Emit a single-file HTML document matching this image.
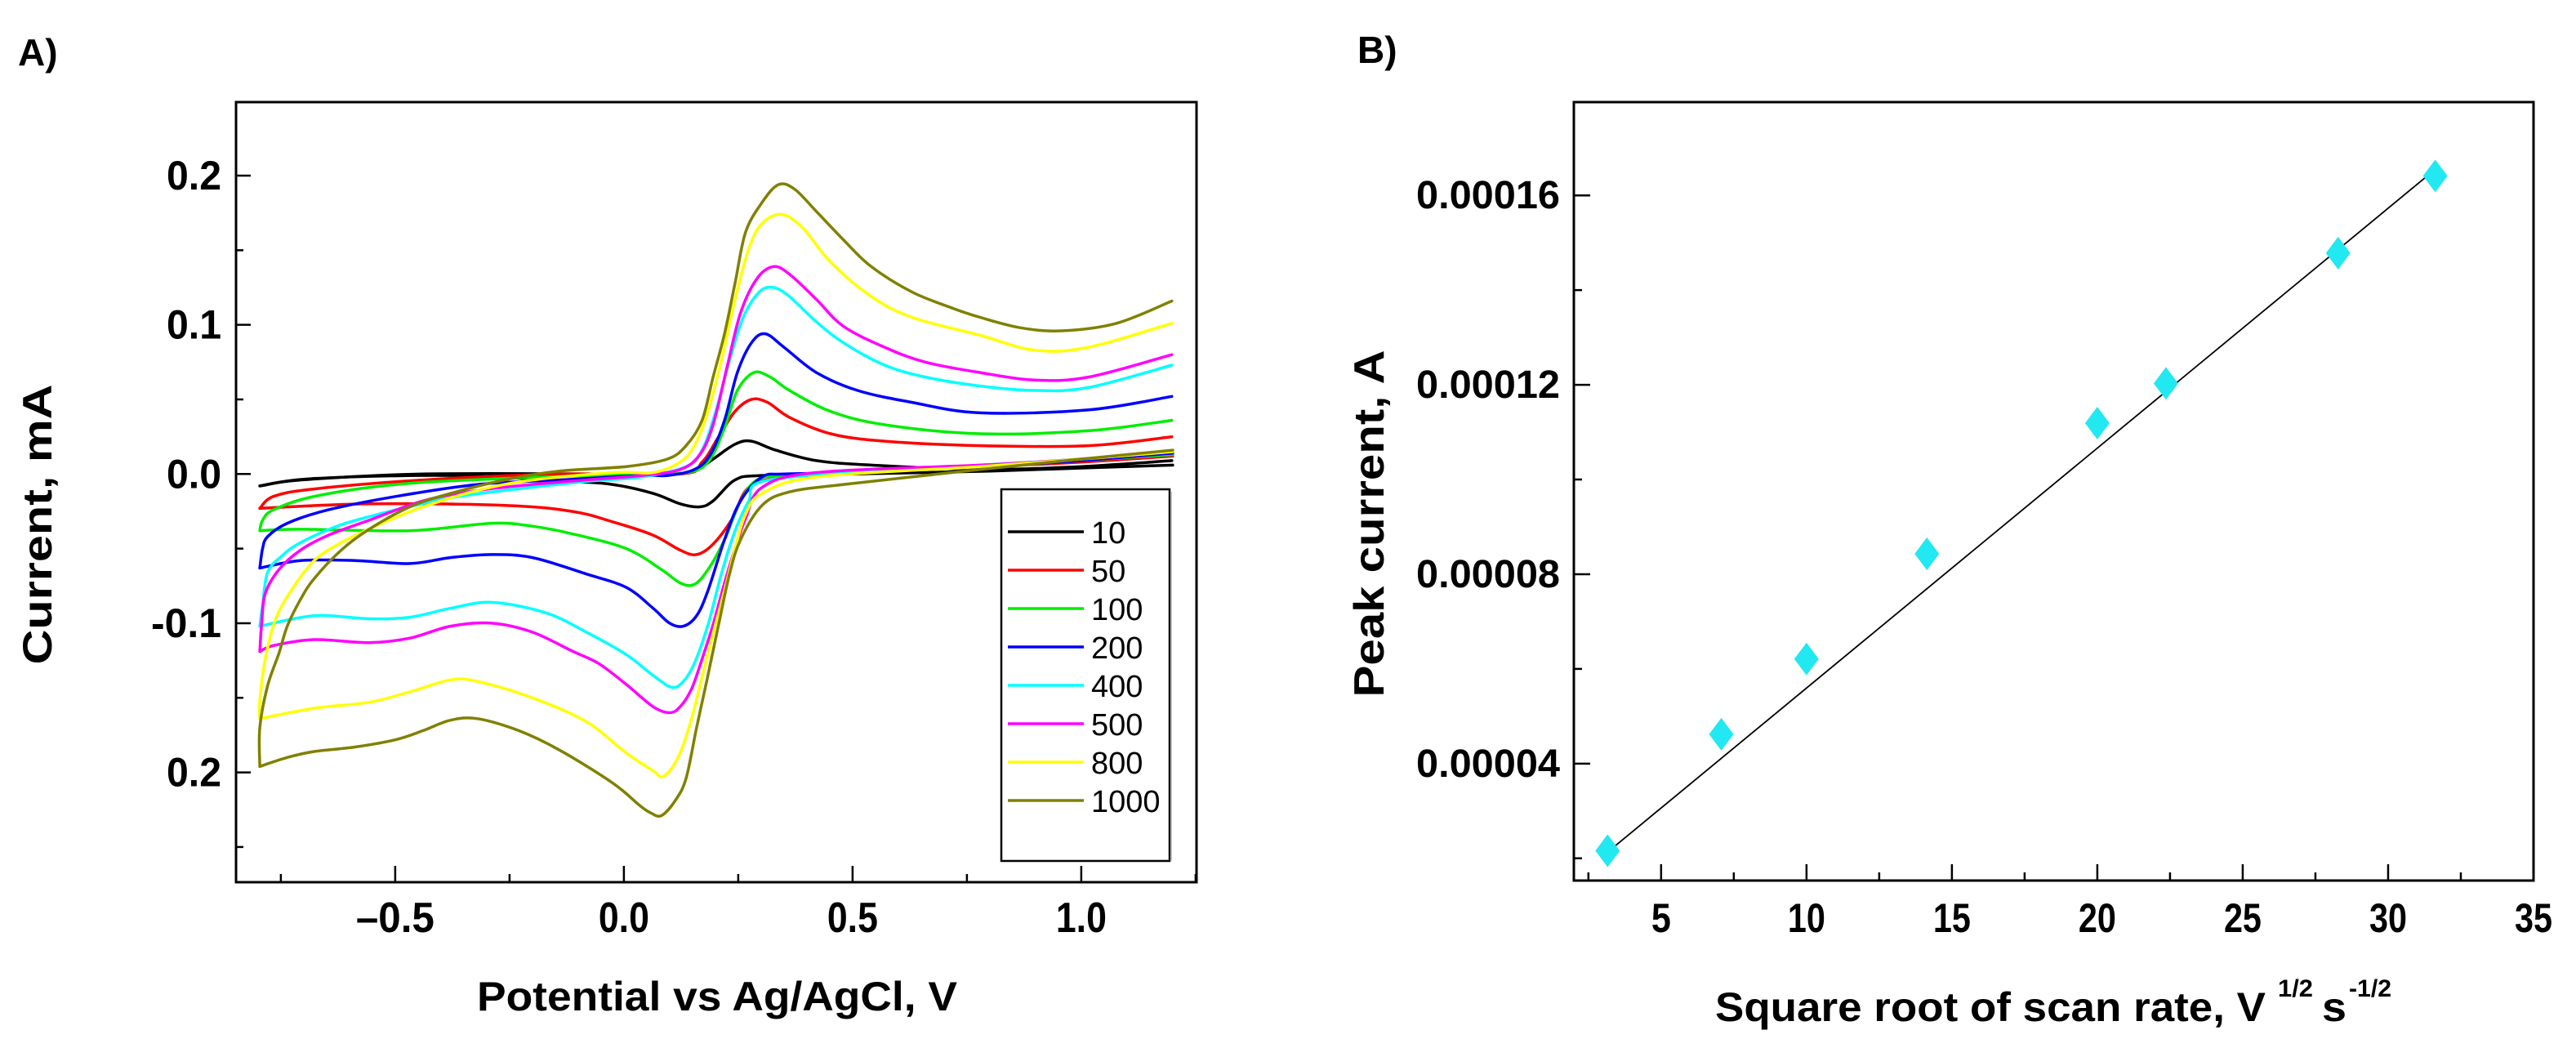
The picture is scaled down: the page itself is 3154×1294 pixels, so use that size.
<!DOCTYPE html>
<html><head><meta charset="utf-8"><style>
html,body{margin:0;padding:0;background:#fff;}
svg{display:block;font-family:"Liberation Sans",Arial,sans-serif;}
</style></head><body>
<svg id="fig" width="3154" height="1294" viewBox="0 0 3154 1294" xmlns="http://www.w3.org/2000/svg">
<rect width="3154" height="1294" fill="#fff"/>
<g id="panelA"></g>
<g id="panelB"></g>
</svg>
<script>
// ---------- Panel A data (potential V, current mA) ----------
const scanRates = [10, 50, 100, 200, 400, 500, 800, 1000];
const seriesColors = ["#000000","#ff0000","#00ee00","#0000ff","#00ffff","#ff00ff","#ffff00","#808000"];
const xTicksA = [-0.5, 0.0, 0.5, 1.0];
const xTickLabelsA = ["\u20130.5","0.0","0.5","1.0"];
const yTicksA = [0.2, 0.1, 0.0, -0.1, -0.2];
const yTickLabelsA = ["0.2","0.1","0.0","-0.1","0.2"];
const lower10=[[1.2,0.006],[1.0,0.004],[0.8,0.002],[0.5,0.0],[0.3,-0.001],[0.243,-0.004],[0.195,-0.018],[0.166,-0.022],[0.123,-0.020],[0.064,-0.013],[-0.025,-0.007],[-0.114,-0.005],[-0.379,-0.001],[-0.677,-0.003],[-0.796,-0.008]];
const upper10=[[-0.796,-0.008],[-0.707,-0.004],[-0.439,0],[0,0],[0.1,0.0],[0.154,0.002],[0.195,0.010],[0.243,0.020],[0.279,0.022],[0.332,0.016],[0.421,0.009],[0.541,0.006],[0.779,0.003],[1.0,0.005],[1.198,0.009]];
const lower50=[[1.2,0.012],[1.0,0.008],[0.8,0.005],[0.5,0.001],[0.35,-0.002],[0.273,-0.009],[0.237,-0.030],[0.195,-0.047],[0.159,-0.054],[0.123,-0.051],[0.064,-0.041],[-0.025,-0.032],[-0.114,-0.025],[-0.261,-0.021],[-0.557,-0.020],[-0.796,-0.023]];
const upper50=[[-0.796,-0.023],[-0.766,-0.015],[-0.677,-0.010],[-0.439,-0.004],[-0.141,0],[0.123,0],[0.171,0.008],[0.207,0.025],[0.243,0.042],[0.279,0.050],[0.314,0.048],[0.362,0.038],[0.452,0.027],[0.570,0.022],[0.779,0.019],[1.016,0.019],[1.198,0.025]];
const lower100=[[1.2,0.013],[1.0,0.009],[0.8,0.005],[0.5,0.001],[0.35,-0.001],[0.291,-0.004],[0.255,-0.018],[0.220,-0.044],[0.184,-0.064],[0.154,-0.074],[0.123,-0.073],[0.082,-0.064],[0.005,-0.050],[-0.114,-0.040],[-0.2,-0.035],[-0.289,-0.033],[-0.468,-0.038],[-0.707,-0.037],[-0.796,-0.038]];
const upper100=[[-0.796,-0.038],[-0.79,-0.031],[-0.766,-0.024],[-0.677,-0.015],[-0.498,-0.007],[-0.261,-0.003],[0.038,0],[0.095,0.0],[0.154,0.002],[0.189,0.010],[0.220,0.031],[0.248,0.056],[0.284,0.068],[0.320,0.065],[0.362,0.056],[0.452,0.042],[0.570,0.033],[0.779,0.027],[1.016,0.029],[1.198,0.036]];
const lower200=[[1.2,0.014],[1.0,0.009],[0.8,0.005],[0.5,0.001],[0.35,0.0],[0.302,-0.002],[0.255,-0.018],[0.220,-0.044],[0.184,-0.078],[0.159,-0.095],[0.130,-0.102],[0.100,-0.100],[0.064,-0.090],[0.005,-0.076],[-0.082,-0.067],[-0.2,-0.056],[-0.289,-0.054],[-0.379,-0.056],[-0.468,-0.060],[-0.588,-0.058],[-0.707,-0.058],[-0.796,-0.063]];
const upper200=[[-0.796,-0.063],[-0.79,-0.050],[-0.779,-0.042],[-0.736,-0.033],[-0.646,-0.024],[-0.498,-0.015],[-0.32,-0.007],[-0.141,-0.004],[0.038,-0.001],[0.095,-0.001],[0.154,0.003],[0.189,0.013],[0.220,0.036],[0.248,0.068],[0.279,0.088],[0.309,0.094],[0.350,0.085],[0.421,0.068],[0.511,0.056],[0.630,0.048],[0.779,0.041],[1.016,0.043],[1.198,0.052]];
const lower400=[[1.2,0.015],[1.0,0.010],[0.779,0.006],[0.5,0.001],[0.302,-0.005],[0.273,-0.018],[0.243,-0.038],[0.213,-0.067],[0.184,-0.101],[0.154,-0.127],[0.130,-0.139],[0.105,-0.143],[0.064,-0.135],[0.005,-0.121],[-0.082,-0.106],[-0.171,-0.093],[-0.289,-0.086],[-0.379,-0.090],[-0.468,-0.096],[-0.557,-0.097],[-0.677,-0.095],[-0.796,-0.102]];
const upper400=[[-0.796,-0.102],[-0.79,-0.088],[-0.779,-0.066],[-0.748,-0.055],[-0.707,-0.046],[-0.618,-0.034],[-0.498,-0.024],[-0.379,-0.016],[-0.261,-0.011],[-0.082,-0.005],[0.038,-0.002],[0.136,0.005],[0.171,0.016],[0.201,0.042],[0.231,0.076],[0.261,0.105],[0.296,0.122],[0.327,0.125],[0.362,0.119],[0.421,0.102],[0.480,0.088],[0.570,0.073],[0.659,0.065],[0.779,0.059],[0.898,0.056],[1.016,0.058],[1.198,0.073]];
const lower500=[[1.2,0.015],[1.0,0.010],[0.779,0.006],[0.421,0.001],[0.302,-0.009],[0.266,-0.030],[0.243,-0.050],[0.220,-0.073],[0.195,-0.101],[0.171,-0.124],[0.148,-0.144],[0.123,-0.156],[0.100,-0.160],[0.064,-0.156],[0.005,-0.141],[-0.055,-0.127],[-0.111,-0.119],[-0.2,-0.106],[-0.289,-0.100],[-0.379,-0.102],[-0.468,-0.110],[-0.557,-0.113],[-0.677,-0.111],[-0.766,-0.115],[-0.796,-0.119]];
const upper500=[[-0.796,-0.119],[-0.792,-0.100],[-0.784,-0.080],[-0.754,-0.064],[-0.707,-0.051],[-0.646,-0.041],[-0.557,-0.031],[-0.439,-0.018],[-0.32,-0.011],[-0.2,-0.007],[-0.082,-0.004],[0.038,-0.001],[0.123,0.003],[0.166,0.013],[0.195,0.033],[0.225,0.071],[0.255,0.108],[0.291,0.131],[0.327,0.139],[0.362,0.134],[0.421,0.117],[0.480,0.099],[0.570,0.085],[0.659,0.075],[0.779,0.068],[0.898,0.063],[1.016,0.065],[1.198,0.080]];
const lower800=[[1.2,0.015],[1.0,0.010],[0.779,0.005],[0.421,-0.002],[0.302,-0.013],[0.266,-0.027],[0.243,-0.050],[0.220,-0.078],[0.195,-0.107],[0.171,-0.136],[0.148,-0.164],[0.123,-0.187],[0.100,-0.199],[0.082,-0.203],[0.064,-0.199],[0.005,-0.187],[-0.082,-0.166],[-0.2,-0.150],[-0.32,-0.139],[-0.379,-0.138],[-0.468,-0.146],[-0.557,-0.153],[-0.677,-0.157],[-0.796,-0.164]];
const upper800=[[-0.796,-0.164],[-0.796,-0.152],[-0.784,-0.124],[-0.761,-0.097],[-0.725,-0.077],[-0.677,-0.058],[-0.618,-0.046],[-0.529,-0.033],[-0.439,-0.022],[-0.320,-0.011],[-0.2,-0.004],[-0.021,0.001],[0.064,0.001],[0.123,0.008],[0.154,0.019],[0.184,0.042],[0.213,0.076],[0.243,0.117],[0.273,0.151],[0.302,0.168],[0.345,0.174],[0.391,0.165],[0.452,0.142],[0.541,0.119],[0.630,0.105],[0.779,0.093],[0.898,0.083],[1.016,0.085],[1.198,0.101]];
const lower1000=[[1.2,0.016],[1.0,0.010],[0.779,0.003],[0.48,-0.007],[0.362,-0.012],[0.302,-0.021],[0.255,-0.044],[0.231,-0.067],[0.207,-0.101],[0.183,-0.136],[0.159,-0.170],[0.136,-0.204],[0.112,-0.219],[0.082,-0.229],[0.058,-0.227],[0.034,-0.222],[-0.025,-0.207],[-0.141,-0.185],[-0.230,-0.172],[-0.320,-0.164],[-0.379,-0.165],[-0.439,-0.172],[-0.498,-0.178],[-0.588,-0.183],[-0.677,-0.186],[-0.736,-0.190],[-0.796,-0.196]];
const upper1000=[[-0.796,-0.196],[-0.796,-0.170],[-0.779,-0.142],[-0.754,-0.120],[-0.736,-0.102],[-0.707,-0.084],[-0.677,-0.070],[-0.618,-0.051],[-0.557,-0.037],[-0.468,-0.022],[-0.379,-0.013],[-0.261,-0.004],[-0.141,0.002],[0.005,0.005],[0.095,0.010],[0.136,0.019],[0.171,0.036],[0.195,0.065],[0.220,0.094],[0.243,0.128],[0.266,0.162],[0.302,0.182],[0.338,0.194],[0.373,0.191],[0.421,0.176],[0.480,0.157],[0.541,0.139],[0.630,0.122],[0.720,0.111],[0.779,0.105],[0.868,0.098],[0.957,0.096],[1.077,0.101],[1.198,0.116]];
const lowerBranches=[lower10,lower50,lower100,lower200,lower400,lower500,lower800,lower1000];
const upperBranches=[upper10,upper50,upper100,upper200,upper400,upper500,upper800,upper1000];

// ---------- Panel B data ----------
const sqrtScanRate = [3.16, 7.07, 10.0, 14.14, 20.0, 22.36, 28.28, 31.62];
const peakCurrent = [0.0000216, 0.0000462, 0.0000621, 0.0000843, 0.0001119, 0.0001203, 0.0001478, 0.0001641];
const fitLineX = [3.16, 31.62];
const fitLineY = [0.0000213, 0.0001655];
const xTicksB = [5, 10, 15, 20, 25, 30, 35];
const yTicksB = [0.00004, 0.00008, 0.00012, 0.00016];
const yTickLabelsB = ["0.00004","0.00008","0.00012","0.00016"];

const NS="http://www.w3.org/2000/svg";
function mk(parent,tag,attrs,text){const e=document.createElementNS(NS,tag);for(const k in attrs)e.setAttribute(k,attrs[k]);if(text!==undefined)e.textContent=text;parent.appendChild(e);return e;}
function smoothPath(pts){
  let d="M"+pts[0][0].toFixed(1)+","+pts[0][1].toFixed(1);
  for(let i=0;i<pts.length-1;i++){
    const p0=pts[i-1]||pts[i],p1=pts[i],p2=pts[i+1],p3=pts[i+2]||p2;
    const t=6;
    const c1=[p1[0]+(p2[0]-p0[0])/t,p1[1]+(p2[1]-p0[1])/t];
    const c2=[p2[0]-(p3[0]-p1[0])/t,p2[1]-(p3[1]-p1[1])/t];
    d+="C"+c1[0].toFixed(1)+","+c1[1].toFixed(1)+" "+c2[0].toFixed(1)+","+c2[1].toFixed(1)+" "+p2[0].toFixed(1)+","+p2[1].toFixed(1);
  }
  return d;
}

// ===== Panel A =====
const A=document.getElementById('panelA');
const aL=289,aR=1465,aT=125,aB=1080;
const axMin=-0.848,axMax=1.252,ayMin=-0.2736,ayMax=0.2493;
const sxA=v=>aL+(v-axMin)/(axMax-axMin)*(aR-aL);
const syA=v=>aB-(v-ayMin)/(ayMax-ayMin)*(aB-aT);

let t=mk(A,'text',{x:22,y:80,'font-size':46,'font-weight':'bold'},'A)');



const curvesA=mk(A,'g',{});


scanRates.forEach((r,i)=>{
  const g=mk(curvesA,'g',{fill:'none',stroke:seriesColors[i],'stroke-width':3.5,'stroke-linejoin':'round','stroke-linecap':'round'});
  
  
  const lo=lowerBranches[i].map(p=>[sxA(p[0]),syA(p[1])]);
  const up=upperBranches[i].map(p=>[sxA(p[0]),syA(p[1])]);
  const p1=mk(g,'path',{d:smoothPath(lo)});
  
  
  const p2=mk(g,'path',{d:smoothPath(up)});
  
  
});

const frameA=mk(A,'rect',{x:aL,y:aT,width:aR-aL,height:aB-aT,fill:'none',stroke:'#000','stroke-width':3});



const xaxA=mk(A,'g',{});


for(let v=-0.75;v<=1.26;v+=0.25){
  const major=Math.abs(v*2-Math.round(v*2))<1e-6;
  mk(xaxA,'line',{x1:sxA(v),x2:sxA(v),y1:aB,y2:aB-(major?20:10),stroke:'#000','stroke-width':2.5});
}
xTicksA.forEach((v,i)=>{
  const lab=mk(xaxA,'text',{x:sxA(v),y:1141,'font-size':52,'font-weight':'bold','text-anchor':'middle',textLength:(i===0?96:62),lengthAdjust:'spacingAndGlyphs'},xTickLabelsA[i]);
  
  
});
t=mk(A,'text',{x:878,y:1237,'font-size':50,'font-weight':'bold','text-anchor':'middle',textLength:588,lengthAdjust:'spacingAndGlyphs'},'Potential vs Ag/AgCl, V');



const yaxA=mk(A,'g',{});


for(let k=-5;k<=4;k++){
  const v=k*0.05;
  if(v<ayMin||v>ayMax)continue;
  const major=(k%2===0);
  mk(yaxA,'line',{x1:aL,x2:aL+(major?18:9),y1:syA(v),y2:syA(v),stroke:'#000','stroke-width':2.5});
}
yTicksA.forEach((v,i)=>{
  const lab=mk(yaxA,'text',{x:271,y:syA(v)+17,'font-size':50,'font-weight':'bold','text-anchor':'end',textLength:(yTickLabelsA[i].length>3?86:67),lengthAdjust:'spacingAndGlyphs'},yTickLabelsA[i]);
  
  
});
t=mk(A,'text',{x:0,y:0,'font-size':50,'font-weight':'bold','text-anchor':'middle',textLength:343,lengthAdjust:'spacingAndGlyphs',transform:'translate(63,642) rotate(-90)'},'Current, mA');



const leg=mk(A,'g',{});


mk(leg,'rect',{x:1226,y:599,width:206,height:455,fill:'#fff',stroke:'#000','stroke-width':2.5});
mk(leg,'line',{x1:1434,y1:602,x2:1434,y2:1054,stroke:'#bbb','stroke-width':2});
scanRates.forEach((r,i)=>{
  const y=651+i*47;
  const e=mk(leg,'g',{});
  
  
  mk(e,'line',{x1:1234,x2:1327,y1:y,y2:y,stroke:seriesColors[i],'stroke-width':3.5});
  mk(e,'text',{x:1336,y:y+14,'font-size':38},String(r));
});

// ===== Panel B =====
const B=document.getElementById('panelB');
const bL=1927,bR=3102,bT=125,bB=1078;
const bxMin=2,bxMax=35,byMin=0.0000153,byMax=0.0001797;
const sxB=v=>bL+(v-bxMin)/(bxMax-bxMin)*(bR-bL);
const syB=v=>bB-(v-byMin)/(byMax-byMin)*(bB-bT);

t=mk(B,'text',{x:1662,y:77,'font-size':46,'font-weight':'bold'},'B)');



const frameB=mk(B,'rect',{x:bL,y:bT,width:bR-bL,height:bB-bT,fill:'none',stroke:'#000','stroke-width':3});



const xaxB=mk(B,'g',{});


for(let v=2.5;v<=35.01;v+=2.5){
  const major=Math.abs(v%5)<1e-6;
  mk(xaxB,'line',{x1:sxB(v),x2:sxB(v),y1:bB,y2:bB-(major?20:10),stroke:'#000','stroke-width':2.5});
}
xTicksB.forEach(v=>{
  const lab=mk(xaxB,'text',{x:sxB(v),y:1141,'font-size':50,'font-weight':'bold','text-anchor':'middle',textLength:(v<10?24:46),lengthAdjust:'spacingAndGlyphs'},String(v));
  
  
});
const xtB=mk(B,'text',{x:2100,y:1250,'font-size':50,'font-weight':'bold'});


mk(xtB,'tspan',{textLength:674,lengthAdjust:'spacingAndGlyphs'},'Square root of scan rate, V');
mk(xtB,'tspan',{x:2789,y:1220,'font-size':30,textLength:43,lengthAdjust:'spacingAndGlyphs'},'1/2');
mk(xtB,'tspan',{x:2843,y:1250,textLength:30,lengthAdjust:'spacingAndGlyphs'},'s');
mk(xtB,'tspan',{x:2876,y:1220,'font-size':30,textLength:52,lengthAdjust:'spacingAndGlyphs'},'-1/2');

const yaxB=mk(B,'g',{});


for(let k=1;k<=8;k++){
  const v=k*0.00002;
  if(v<byMin||v>byMax)continue;
  const major=(k%2===0);
  mk(yaxB,'line',{x1:bL,x2:bL+(major?20:10),y1:syB(v),y2:syB(v),stroke:'#000','stroke-width':2.5});
}
yTicksB.forEach((v,i)=>{
  const lab=mk(yaxB,'text',{x:1910,y:syB(v)+16,'font-size':48,'font-weight':'bold','text-anchor':'end',textLength:176,lengthAdjust:'spacingAndGlyphs'},yTickLabelsB[i]);
  
  
});
t=mk(B,'text',{x:0,y:0,'font-size':52,'font-weight':'bold','text-anchor':'middle',textLength:425,lengthAdjust:'spacingAndGlyphs',transform:'translate(1694,641) rotate(-90)'},'Peak current, A');



const fit=mk(B,'line',{x1:sxB(fitLineX[0]),y1:syB(fitLineY[0]),x2:sxB(fitLineX[1]),y2:syB(fitLineY[1]),stroke:'#000','stroke-width':1.8});



const pts=mk(B,'g',{fill:'#22e8f2'});


for(let i=0;i<sqrtScanRate.length;i++){
  const cx=sxB(sqrtScanRate[i]), cy=syB(peakCurrent[i]);
  const d=mk(pts,'polygon',{points:`${cx},${cy-20} ${cx+15},${cy} ${cx},${cy+20} ${cx-15},${cy}`});
  
  
}
</script>
</body></html>
